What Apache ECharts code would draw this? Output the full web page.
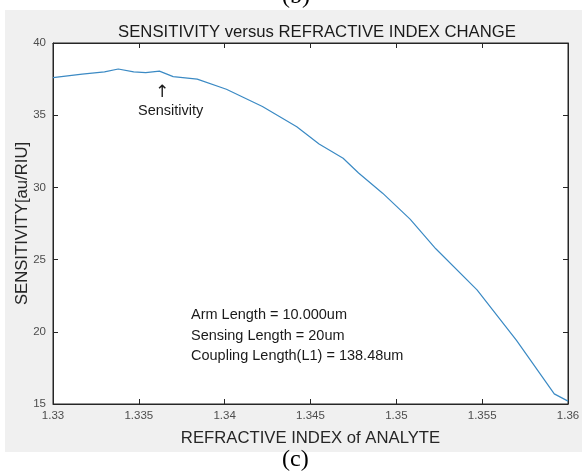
<!DOCTYPE html>
<html>
<head>
<meta charset="utf-8">
<script src="https://cdn.jsdelivr.net/npm/echarts@6/dist/echarts.min.js"></script>
<style>
  html, body { margin: 0; padding: 0; background: #ffffff; }
  #chart { width: 582px; height: 475px; }
</style>
</head>
<body>
<div id="chart"></div>
<script>
const refractiveIndex = [1.33, 1.3317, 1.3330, 1.3338, 1.3347, 1.3354, 1.3362, 1.3370, 1.3384, 1.3401, 1.3422, 1.3442, 1.3455, 1.3469, 1.3478, 1.3492, 1.3508, 1.3523, 1.3547, 1.3570, 1.3592, 1.36];
const sensitivity = [37.6, 37.85, 38.0, 38.2, 38.0, 37.95, 38.05, 37.67, 37.5, 36.8, 35.6, 34.2, 33.0, 32.02, 31.0, 29.6, 27.8, 25.75, 22.9, 19.4, 15.7, 15.2];
const xTicks = { min: 1.33, max: 1.36, interval: 0.005 };
const yTicks = { min: 15, max: 40, interval: 5 };
const titleText = 'SENSITIVITY versus REFRACTIVE INDEX CHANGE';
const xName = 'REFRACTIVE INDEX of ANALYTE';
const yName = 'SENSITIVITY[au/RIU]';
const annotationLines = ['Arm Length = 10.000um', 'Sensing Length = 20um', 'Coupling Length(L1) = 138.48um'];

const chart = echarts.init(document.getElementById('chart'), null, { renderer: 'canvas' });
const axisColor = '#262626';
const font = 'Liberation Sans, Arial, sans-serif';

function fmtX(v) { return parseFloat(v.toFixed(4)).toString(); }

const commonAxis = {
  axisLine: { show: true, lineStyle: { color: axisColor, width: 1 } },
  axisTick: { show: true, inside: true, length: 5, lineStyle: { color: axisColor } },
  splitLine: { show: false }
};

const option = {
  backgroundColor: '#ffffff',
  animation: false,
  title: {
    text: titleText,
    left: 312, top: 19, textAlign: 'center',
    textStyle: { fontFamily: font, fontSize: 16.7, fontWeight: 'normal', color: '#1a1a1a' }
  },
  grid: {
    left: 53, top: 43, right: 14, bottom: 71,
    outerBoundsMode: 'none', containLabel: false,
    show: true, backgroundColor: '#ffffff', borderColor: axisColor, borderWidth: 1
  },
  xAxis: [
    Object.assign({}, commonAxis, {
      type: 'value', position: 'bottom',
      min: xTicks.min, max: xTicks.max, interval: xTicks.interval,
      name: xName, nameLocation: 'middle', nameGap: 26,
      nameTextStyle: { fontFamily: font, fontSize: 16.7, color: '#262626' },
      axisLabel: { formatter: fmtX, fontFamily: font, fontSize: 11.5, color: '#4d4d4d', margin: 6 }
    }),
    Object.assign({}, commonAxis, {
      type: 'value', position: 'top',
      min: xTicks.min, max: xTicks.max, interval: xTicks.interval,
      axisLabel: { show: false }
    })
  ],
  yAxis: [
    Object.assign({}, commonAxis, {
      type: 'value', position: 'left',
      min: yTicks.min, max: yTicks.max, interval: yTicks.interval,
      name: yName, nameLocation: 'middle', nameGap: 22, nameRotate: 90,
      nameMoveOverlap: false,
      nameTextStyle: { fontFamily: font, fontSize: 16.7, color: '#262626' },
      axisLabel: { fontFamily: font, fontSize: 11.5, color: '#4d4d4d', margin: 7 }
    }),
    Object.assign({}, commonAxis, {
      type: 'value', position: 'right',
      min: yTicks.min, max: yTicks.max, interval: yTicks.interval,
      axisLabel: { show: false }
    })
  ],
  series: [{
    type: 'line',
    data: refractiveIndex.map((x, i) => [x, sensitivity[i]]),
    showSymbol: false,
    lineStyle: { color: '#3b8ac4', width: 1.2 },
    z: 3
  }],
  graphic: [
    { type: 'rect', z: -100, silent: true, shape: { x: 5, y: 10, width: 577, height: 442 }, style: { fill: '#f0f0f0' } },
    { type: 'text', z: 100, left: 282, top: -15, style: { text: '(b)', font: '24px "Liberation Serif", serif', fill: '#000' } },
    { type: 'text', z: 100, left: 282, top: 448, style: { text: '(c)', font: '24px "Liberation Serif", serif', fill: '#000' } },
    { type: 'text', z: 100, left: 155, top: 84, style: { text: '↑', font: '17px "DejaVu Sans", sans-serif', fill: '#1a1a1a' } },
    { type: 'text', z: 100, left: 138, top: 103, style: { text: 'Sensitivity', font: '14.5px ' + font, fill: '#1a1a1a' } },
    { type: 'text', z: 100, left: 191, top: 307, style: { text: annotationLines[0], font: '14.5px ' + font, fill: '#1a1a1a' } },
    { type: 'text', z: 100, left: 191, top: 328, style: { text: annotationLines[1], font: '14.5px ' + font, fill: '#1a1a1a' } },
    { type: 'text', z: 100, left: 191, top: 348, style: { text: annotationLines[2], font: '14.5px ' + font, fill: '#1a1a1a' } }
  ]
};
chart.setOption(option);
</script>
</body>
</html>
